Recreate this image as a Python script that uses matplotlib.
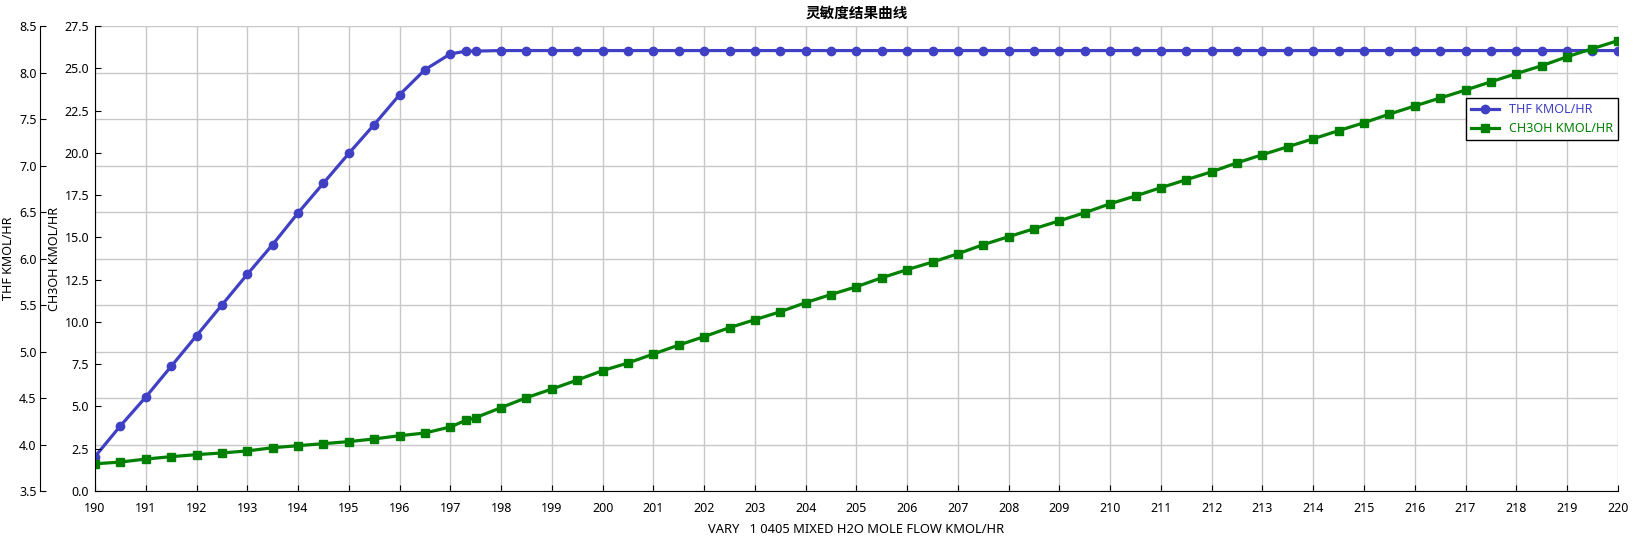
import matplotlib
matplotlib.use('Agg')
import matplotlib.pyplot as plt

plt.rcParams['font.family'] = ['Noto Sans', 'Noto Sans CJK SC', 'DejaVu Sans']

# 数据: 扫描变量 (H2O 流量) 与两条结果曲线
flow = [190, 190.5, 191, 191.5, 192, 192.5, 193, 193.5, 194, 194.5, 195, 195.5,
        196, 196.5, 197, 197.3, 197.5, 198, 198.5, 199, 199.5, 200, 200.5, 201,
        201.5, 202, 202.5, 203, 203.5, 204, 204.5, 205, 205.5, 206, 206.5, 207,
        207.5, 208, 208.5, 209, 209.5, 210, 210.5, 211, 211.5, 212, 212.5, 213,
        213.5, 214, 214.5, 215, 215.5, 216, 216.5, 217, 217.5, 218, 218.5, 219,
        219.5, 220]
thf = [3.87, 4.20, 4.51, 4.84, 5.17, 5.50, 5.83, 6.15, 6.49, 6.81, 7.13, 7.44,
       7.76, 8.03, 8.20, 8.228, 8.230, 8.236, 8.236, 8.236, 8.236, 8.236, 8.236,
       8.236, 8.236, 8.236, 8.236, 8.236, 8.236, 8.236, 8.236, 8.236, 8.236,
       8.236, 8.236, 8.236, 8.236, 8.236, 8.236, 8.236, 8.236, 8.236, 8.236,
       8.236, 8.236, 8.236, 8.236, 8.236, 8.236, 8.236, 8.236, 8.236, 8.236,
       8.236, 8.236, 8.236, 8.236, 8.236, 8.236, 8.236, 8.236, 8.236]
ch3oh = [1.61, 1.71, 1.89, 2.03, 2.15, 2.25, 2.37, 2.56, 2.68, 2.80, 2.92, 3.08,
         3.27, 3.43, 3.79, 4.17, 4.34, 4.93, 5.52, 6.03, 6.56, 7.12, 7.57, 8.10,
         8.63, 9.13, 9.66, 10.13, 10.60, 11.14, 11.62, 12.08, 12.61, 13.09, 13.54,
         14.03, 14.57, 15.04, 15.51, 15.98, 16.46, 16.99, 17.45, 17.94, 18.41,
         18.88, 19.41, 19.89, 20.36, 20.83, 21.31, 21.78, 22.29, 22.77, 23.24,
         23.71, 24.20, 24.68, 25.15, 25.68, 26.16, 26.63]
xticks = list(range(190, 221))
thf_ticks = [3.5, 4.0, 4.5, 5.0, 5.5, 6.0, 6.5, 7.0, 7.5, 8.0, 8.5]
ch3oh_ticks = [0.0, 2.5, 5.0, 7.5, 10.0, 12.5, 15.0, 17.5, 20.0, 22.5, 25.0, 27.5]

BLUE = '#4040C4'
GREEN = '#008000'

fig = plt.figure(figsize=(16.36, 5.41), dpi=100)
ax = fig.add_axes([95/1636, 1 - 491/541, 1522.8/1636, 465/541])
ax2 = ax.twinx()

# THF: 外侧左轴
ax.plot(flow, thf, color=BLUE, lw=2.3, marker='o', ms=6, label='THF KMOL/HR')
ax.set_ylim(3.5, 8.5)
ax.set_yticks(thf_ticks)
ax.set_yticklabels([f'{v:.1f}' for v in thf_ticks])
ax.spines['left'].set_position(('axes', -55/1522.8))
ax.set_ylabel('THF KMOL/HR', fontsize=9)
ax.yaxis.set_label_coords(-80/1522.8, 0.5)

# CH3OH: 内侧左轴 (画在上层)
ax2.plot(flow, ch3oh, color=GREEN, lw=2.3, marker='s', ms=6, label='CH3OH KMOL/HR')
ax2.set_ylim(0, 27.5)
ax2.set_yticks(ch3oh_ticks)
ax2.set_yticklabels([f'{v:.1f}' for v in ch3oh_ticks])
ax2.yaxis.tick_left()
ax2.yaxis.set_label_position('left')
ax2.set_ylabel('CH3OH KMOL/HR', fontsize=9)
ax2.yaxis.set_label_coords(-34/1522.8, 0.5)

ax.set_xlim(190, 220)
ax.set_xticks(xticks)
ax.set_xlabel('VARY   1 0405 MIXED H2O MOLE FLOW KMOL/HR', fontsize=9.3, labelpad=6)
ax.grid(True, color='#C8C8C8', lw=1)
ax.set_axisbelow(True)

for a in (ax, ax2):
    a.spines['top'].set_visible(False)
    a.spines['right'].set_visible(False)
ax2.spines['bottom'].set_visible(False)
ax2.spines['left'].set_visible(True)

ax.tick_params(axis='x', direction='in', length=4, labelsize=9, pad=8)
ax.tick_params(axis='y', direction='in', length=4, labelsize=9, pad=2.5)
ax2.tick_params(axis='y', direction='in', length=4, labelsize=9, pad=4.3)

ax.set_title('灵敏度结果曲线', fontsize=10.5, fontweight='bold',
             family=['Noto Sans CJK SC', 'DejaVu Sans'], pad=6)

h1, l1 = ax.get_legend_handles_labels()
h2, l2 = ax2.get_legend_handles_labels()
leg = ax2.legend(h1 + h2, l1 + l2, loc='upper right', bbox_to_anchor=(1.0, 393/465),
                 fontsize=9, frameon=True, fancybox=False, framealpha=1,
                 edgecolor='black', borderaxespad=0, handlelength=2.2)
leg.get_frame().set_linewidth(1)
for t, c in zip(leg.get_texts(), [BLUE, GREEN]):
    t.set_color(c)

fig.savefig('out.png', dpi=100)
